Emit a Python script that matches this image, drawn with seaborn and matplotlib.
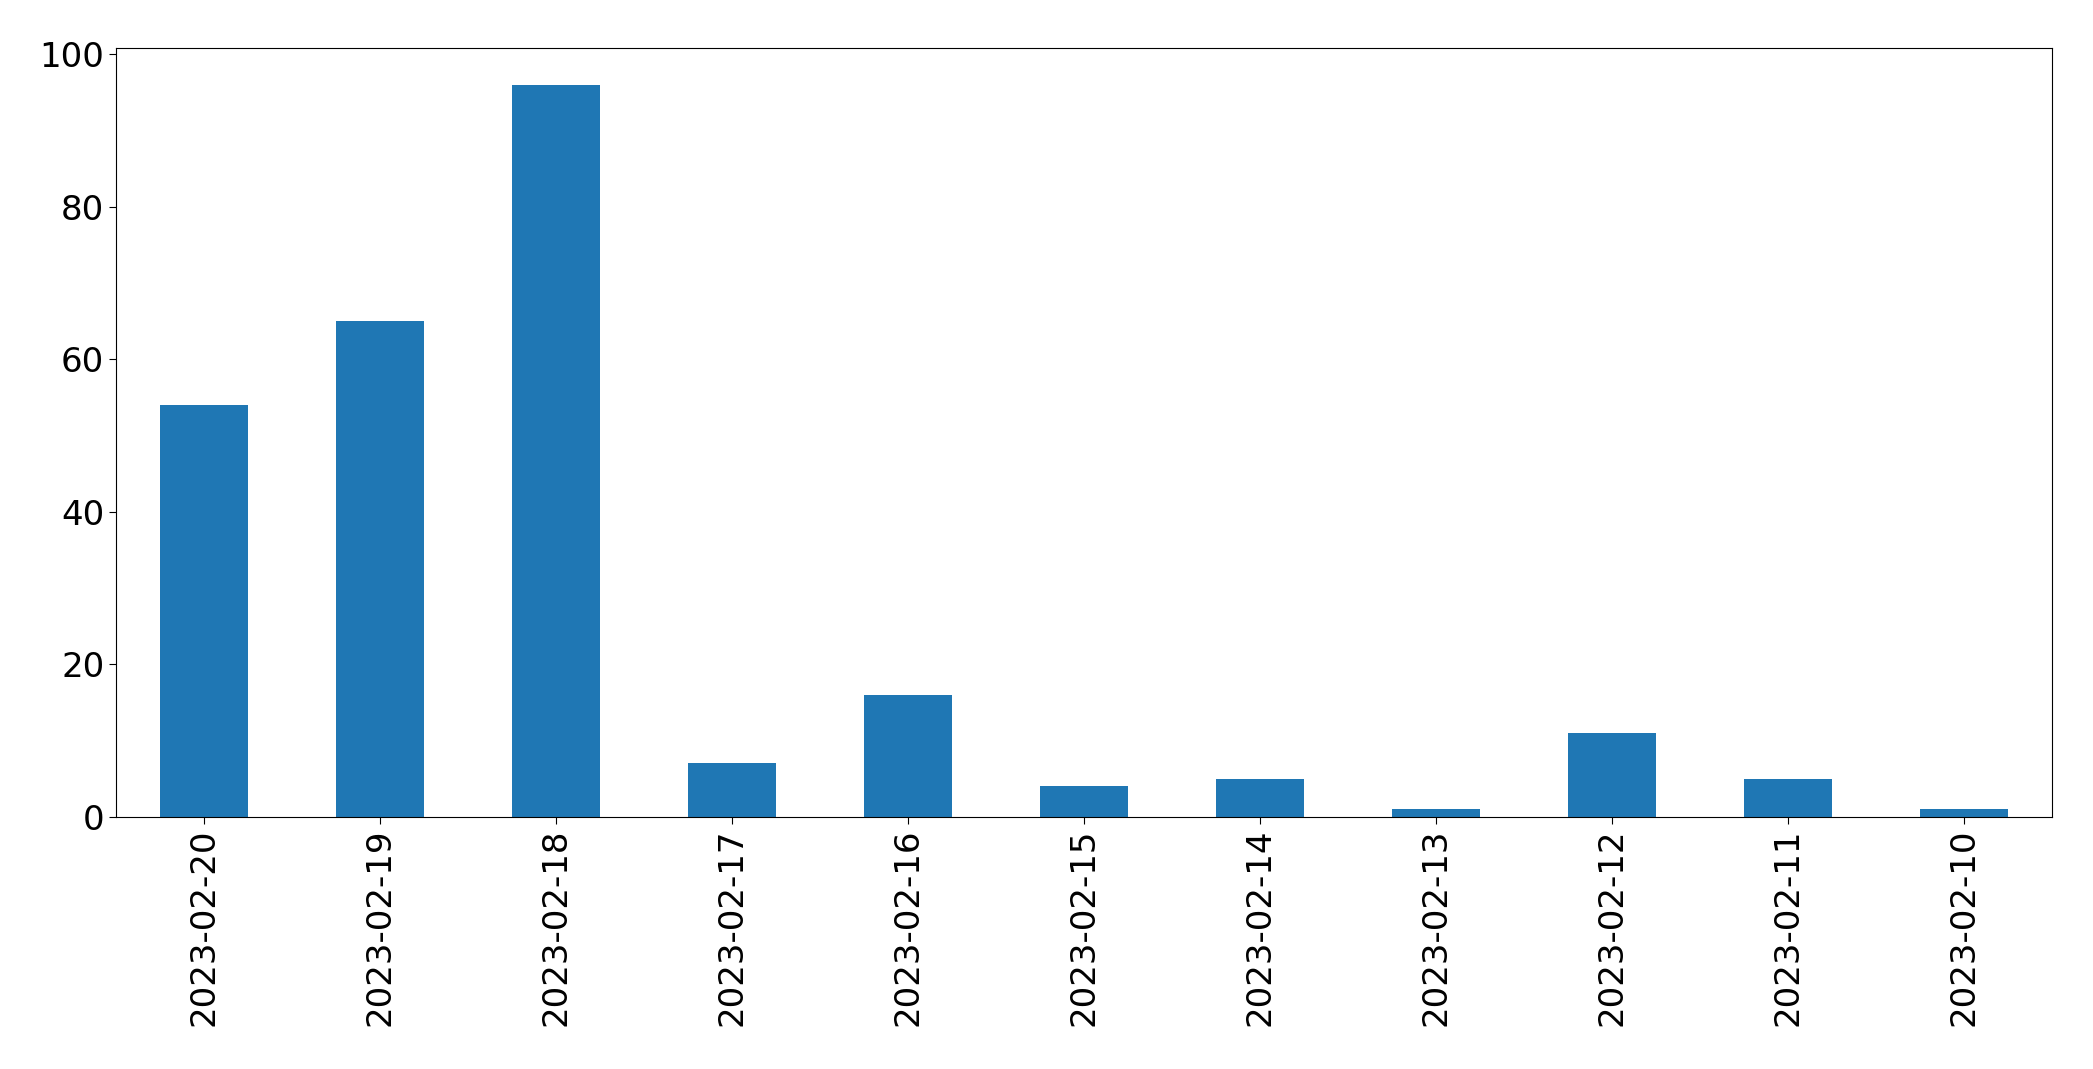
import matplotlib
matplotlib.use("Agg")
import matplotlib.pyplot as plt
import pandas as pd
import seaborn as sns

dates = ['2023-02-20', '2023-02-19', '2023-02-18', '2023-02-17', '2023-02-16',
         '2023-02-15', '2023-02-14', '2023-02-13', '2023-02-12', '2023-02-11',
         '2023-02-10']
counts = [54, 65, 96, 7, 16, 4, 5, 1, 11, 5, 1]

df = pd.DataFrame({'date': dates, 'count': counts})

fig, ax = plt.subplots(figsize=(20.93, 10.69), dpi=100)
fig.subplots_adjust(left=0.0555, right=0.9805, top=0.955, bottom=0.236)

sns.barplot(data=df, x='date', y='count', color='#1f77b4', saturation=1,
            width=0.5, order=dates, ax=ax)

ax.set_xlim(-0.5, len(dates) - 0.5)
ax.set_ylim(0, max(counts) * 1.05)
ax.set_xlabel('')
ax.set_ylabel('')
for s in ax.spines.values():
    s.set_edgecolor('black')
ax.tick_params(axis='both', labelsize=24.5, length=5)
ax.tick_params(axis='x', labelrotation=90)

plt.savefig('out.png', dpi=100)
